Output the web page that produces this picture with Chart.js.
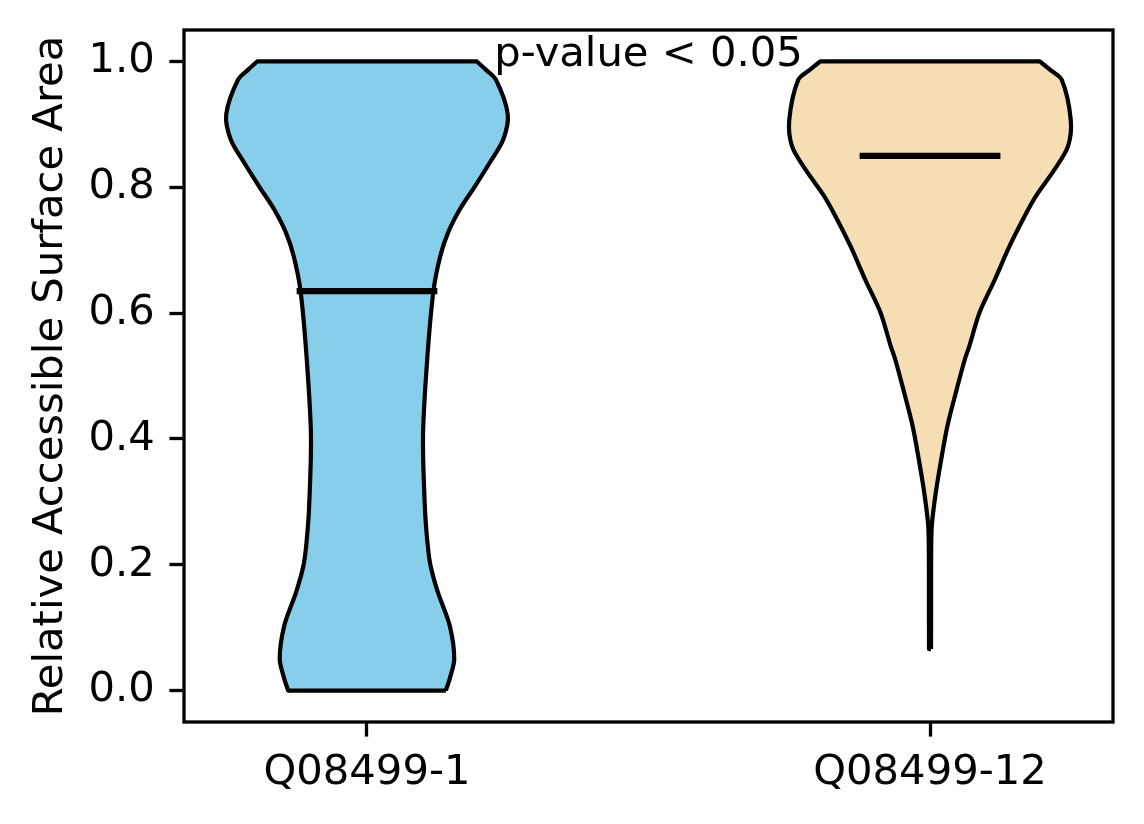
<!DOCTYPE html>
<html lang="en">
<head>
    <meta charset="UTF-8">
    <title>Relative Accessible Surface Area</title>
    <script src="https://cdn.jsdelivr.net/npm/chart.js"></script>
    <style>
        body {
            margin: 0;
            background-color: white;
        }
        .chart-box {
            position: relative;
            width: 1144px;
            height: 824px;
        }
    </style>
</head>
<body>
    <div class="chart-box">
        <canvas id="violinChart"></canvas>
    </div>

    <script>
        // Data
        const categories = ['Q08499-1', 'Q08499-12'];
        const positions = [1, 2];
        const yTicks = [0.0, 0.2, 0.4, 0.6, 0.8, 1.0];

        // violin outlines: value levels and half widths (x units)
        const violin1Y = [0.0, 0.019, 0.05, 0.103, 0.156, 0.198, 0.23, 0.288, 0.405, 0.527, 0.635, 0.69, 0.728, 0.765, 0.802, 0.839, 0.876, 0.916, 0.971, 0.987, 1.0];
        const violin1W = [0.140, 0.147, 0.155, 0.147, 0.126, 0.113, 0.108, 0.103, 0.0995, 0.107, 0.118, 0.130, 0.144, 0.165, 0.192, 0.218, 0.242, 0.250, 0.229, 0.211, 0.195];

        const violin2Y = [0.066, 0.146, 0.209, 0.262, 0.315, 0.368, 0.421, 0.474, 0.527, 0.548, 0.601, 0.653, 0.706, 0.754, 0.786, 0.828, 0.865, 0.907, 0.971, 0.987, 1.0];
        const violin2W = [0.0018, 0.0019, 0.002, 0.0032, 0.0103, 0.020, 0.031, 0.046, 0.062, 0.070, 0.088, 0.115, 0.141, 0.168, 0.188, 0.221, 0.245, 0.250, 0.234, 0.213, 0.195];

        const medians = [0.635, 0.850];
        const colors = ['#87CEEB', '#F5DEB3'];

        const annotText = 'p-value < 0.05';
        const annotX = 1.5;
        const annotY = 0.992;

        const fontSize = 41.7;

        // outline: right side upwards, left side downwards, corners doubled so the curve keeps them sharp
        function buildOutline(pos, ys, ws) {
            const right = ys.map((y, i) => ({ x: pos + ws[i], y: y }));
            const left = ys.map((y, i) => ({ x: pos - ws[i], y: y })).reverse();
            const top = right[right.length - 1];
            return [...right, top, left[0], ...left, left[left.length - 1], right[0]];
        }

        function medianLine(pos, m) {
            return [{ x: pos - 0.125, y: m }, { x: pos + 0.125, y: m }];
        }

        const violinData = [
            buildOutline(positions[0], violin1Y, violin1W),
            buildOutline(positions[1], violin2Y, violin2W)
        ];

        const datasets = [];
        violinData.forEach((pts, i) => {
            datasets.push({
                label: categories[i],
                data: pts,
                showLine: true,
                fill: 'shape',
                backgroundColor: colors[i],
                borderColor: '#000',
                borderWidth: 4.2,
                borderJoinStyle: 'round',
                pointRadius: 0,
                tension: 0.3,
                order: 2
            });
            datasets.push({
                label: categories[i] + ' median',
                data: medianLine(positions[i], medians[i]),
                showLine: true,
                fill: false,
                borderColor: '#000',
                borderWidth: 6.3,
                borderCapStyle: 'butt',
                pointRadius: 0,
                order: 1
            });
        });

        // frame and the p-value note
        const framePlugin = {
            id: 'frame',
            afterDatasetsDraw(chart) {
                const { ctx, chartArea: a, scales } = chart;
                ctx.save();
                ctx.strokeStyle = '#000';
                ctx.lineWidth = 3.3;
                ctx.strokeRect(a.left, a.top, a.right - a.left, a.bottom - a.top);
                ctx.font = fontSize + 'px "DejaVu Sans"';
                ctx.fillStyle = '#000';
                ctx.textAlign = 'center';
                ctx.textBaseline = 'alphabetic';
                ctx.fillText(annotText, scales.x.getPixelForValue(annotX), scales.y.getPixelForValue(annotY));
                ctx.restore();
            }
        };

        Chart.defaults.font.family = '"DejaVu Sans"';
        Chart.defaults.font.size = fontSize;
        Chart.defaults.color = '#000';

        const ctx = document.getElementById('violinChart').getContext('2d');
        const chart = new Chart(ctx, {
            type: 'scatter',
            data: { datasets: datasets },
            plugins: [framePlugin],
            options: {
                responsive: true,
                maintainAspectRatio: false,
                animation: false,
                layout: {
                    padding: { top: 30, right: 31, left: 0, bottom: 0 }
                },
                plugins: {
                    legend: { display: false },
                    tooltip: { enabled: false }
                },
                scales: {
                    x: {
                        type: 'linear',
                        min: 0.675,
                        max: 2.325,
                        afterBuildTicks: (scale) => {
                            scale.ticks = positions.map(v => ({ value: v }));
                        },
                        afterFit: (scale) => {
                            scale.height = 102;
                            scale.paddingLeft = 0;
                            scale.paddingRight = 0;
                        },
                        ticks: {
                            padding: 12,
                            maxRotation: 0,
                            callback: (value) => categories[positions.indexOf(value)]
                        },
                        grid: {
                            drawOnChartArea: false,
                            drawTicks: true,
                            tickLength: 14.6,
                            tickWidth: 3.3,
                            tickColor: '#000'
                        },
                        border: { display: false }
                    },
                    y: {
                        type: 'linear',
                        min: -0.05,
                        max: 1.05,
                        afterBuildTicks: (scale) => {
                            scale.ticks = yTicks.map(v => ({ value: v }));
                        },
                        afterFit: (scale) => {
                            scale.width = 184;
                            scale.paddingTop = 0;
                            scale.paddingBottom = 0;
                        },
                        ticks: {
                            padding: 14.6,
                            callback: (value) => value.toFixed(1)
                        },
                        grid: {
                            drawOnChartArea: false,
                            drawTicks: true,
                            tickLength: 14.6,
                            tickWidth: 3.3,
                            tickColor: '#000'
                        },
                        border: { display: false },
                        title: {
                            display: true,
                            text: 'Relative Accessible Surface Area',
                            font: { size: fontSize },
                            padding: { top: 26, bottom: 0 }
                        }
                    }
                }
            }
        });
    </script>
</body>
</html>
